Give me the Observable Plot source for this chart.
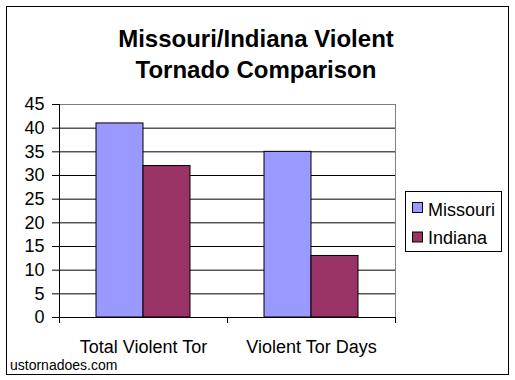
<!DOCTYPE html>
<html>
<head>
<meta charset="utf-8">
<script src="https://cdn.jsdelivr.net/npm/d3@7"></script>
<script src="https://cdn.jsdelivr.net/npm/@observablehq/plot@0.6"></script>
<style>
  body { margin: 0; background: #fff; }
  #wrap { position: relative; width: 515px; height: 380px; font-family: "Liberation Sans", Arial, sans-serif; }
  #wrap > svg { position: absolute; left: 0; top: 0; }
</style>
</head>
<body>
<div id="wrap"></div>
<script>
// ---- Data ----
const categories = ["Total Violent Tor", "Violent Tor Days"];
const series = ["Missouri", "Indiana"];
const missouri = [41, 35];
const indiana = [32, 13];
const yTicks = [0, 5, 10, 15, 20, 25, 30, 35, 40, 45];
const colors = ["#9999FF", "#993366"];
const titleLines = ["Missouri/Indiana Violent", "Tornado Comparison"];
const sourceText = "ustornadoes.com";

const data = categories.flatMap((c, i) => [
  {category: c, state: series[0], value: missouri[i]},
  {category: c, state: series[1], value: indiana[i]}
]);

const W = 515, H = 380;
const font = "Liberation Sans, Arial, sans-serif";

const plot = Plot.plot({
  width: W, height: H,
  marginTop: 104, marginBottom: 63, marginLeft: 58, marginRight: 120,
  style: {fontFamily: font, fontSize: "18px", color: "#000", background: "transparent", overflow: "visible"},
  facet: {data, x: "category"},
  fx: {domain: categories, padding: 0, label: null, axis: "bottom", tickSize: 0, tickPadding: 23},
  x: {domain: series, paddingInner: 0, paddingOuter: 0.755, axis: null},
  y: {domain: [0, 45], ticks: yTicks, tickSize: 7, tickPadding: 8, label: null},
  color: {domain: series, range: colors},
  marks: [
    Plot.ruleY(yTicks.filter(t => t > 0 && t < 45), {stroke: "#000", strokeWidth: 1}),
    Plot.barY(data, {x: "state", y: "value", fill: "state", stroke: "#000", strokeWidth: 1})
  ]
});

document.getElementById("wrap").appendChild(plot);

// ---- Frame lines from the library's scales ----
const ys = plot.scale("y");
let fxs = null;
try { fxs = plot.scale("fx"); } catch (e) { fxs = null; }
let left = 58, right = W - 120, edges = [58, (58 + W - 120) / 2, W - 120];
if (fxs && fxs.bandwidth != null) {
  const starts = categories.map(c => fxs.apply(c));
  left = starts[0];
  right = starts[starts.length - 1] + fxs.bandwidth;
  edges = [...starts, right];
}
const yTop = ys.apply(45), yBot = ys.apply(0);
const s = d3.select(plot);
const g = s.append("g").attr("shape-rendering", "crispEdges");
g.append("line").attr("x1", left).attr("x2", right).attr("y1", yTop + 0.5).attr("y2", yTop + 0.5).attr("stroke", "#808080");
g.append("line").attr("x1", right + 0.5).attr("x2", right + 0.5).attr("y1", yTop).attr("y2", yBot).attr("stroke", "#808080");
g.append("line").attr("x1", left + 0.5).attr("x2", left + 0.5).attr("y1", yTop).attr("y2", yBot + 6).attr("stroke", "#000");
g.append("line").attr("x1", left).attr("x2", right + 1).attr("y1", yBot + 0.5).attr("y2", yBot + 0.5).attr("stroke", "#000");
edges.forEach(x => {
  g.append("line").attr("x1", Math.round(x) + 0.5).attr("x2", Math.round(x) + 0.5).attr("y1", yBot).attr("y2", yBot + 6).attr("stroke", "#000");
});

// ---- Overlay: border, title, legend, source ----
const ov = d3.select("#wrap").append("svg").attr("width", W).attr("height", H)
  .style("font-family", font).style("pointer-events", "none");
ov.append("rect").attr("x", 6.5).attr("y", 6.5).attr("width", 502).attr("height", 368)
  .attr("fill", "none").attr("stroke", "#000").attr("stroke-width", 1);
titleLines.forEach((t, i) => {
  ov.append("text").attr("x", 256).attr("y", 47 + i * 31).attr("text-anchor", "middle")
    .attr("font-size", 24).attr("font-weight", "bold").attr("fill", "#000").text(t);
});
const lg = ov.append("g");
lg.append("rect").attr("x", 405.5).attr("y", 191.5).attr("width", 96).attr("height", 60)
  .attr("fill", "#fff").attr("stroke", "#000");
series.forEach((name, i) => {
  lg.append("rect").attr("x", 412.5).attr("y", 202.5 + i * 29.5).attr("width", 10).attr("height", 10)
    .attr("fill", colors[i]).attr("stroke", "#000");
  lg.append("text").attr("x", 428).attr("y", 216 + i * 28).attr("font-size", 18).attr("fill", "#000").text(name);
});
ov.append("text").attr("x", 10).attr("y", 370).attr("font-size", 14).attr("fill", "#000").text(sourceText);
</script>
</body>
</html>
